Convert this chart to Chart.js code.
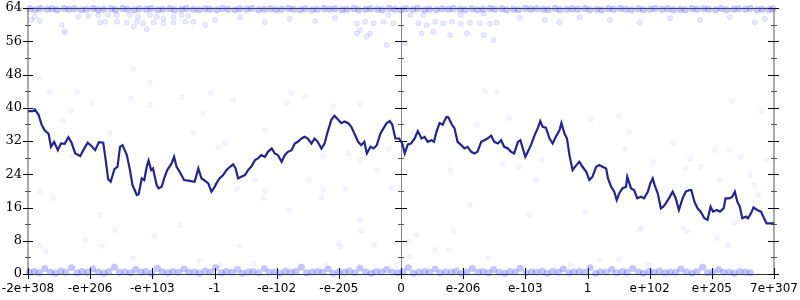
<!DOCTYPE html>
<html><head><meta charset="utf-8">
<script src="https://cdn.jsdelivr.net/npm/chart.js@4/dist/chart.umd.min.js"></script>
<style>html,body{margin:0;padding:0;background:#fff}#wrap{width:800px;height:300px}</style>
</head><body><div id="wrap"><canvas id="c" width="800" height="300"></canvas></div>
<script>
// ---- categories / tick labels ----
const tickLabels = ["-2e+308","-e+206","-e+103","-1","-e-102","-e-205","0","e-206","e-103","1","e+102","e+205","7e+307"];
const yTicks = [0,8,16,24,32,40,48,56,64];

// ---- main line series (x in tick-interval units) ----
const lineX = [0.00,0.08,0.11,0.17,0.22,0.27,0.33,0.37,0.42,0.48,0.53,0.59,0.65,0.70,0.76,0.84,0.89,0.96,1.02,1.08,1.14,1.21,1.25,1.29,1.33,1.39,1.44,1.48,1.52,1.59,1.64,1.68,1.75,1.78,1.83,1.87,1.91,1.94,1.98,2.01,2.07,2.10,2.15,2.19,2.24,2.31,2.35,2.39,2.44,2.51,2.60,2.68,2.74,2.79,2.84,2.90,2.95,3.00,3.03,3.08,3.14,3.19,3.25,3.30,3.34,3.38,3.43,3.49,3.54,3.59,3.65,3.70,3.75,3.81,3.86,3.92,3.97,4.02,4.08,4.13,4.18,4.24,4.29,4.34,4.40,4.45,4.50,4.56,4.61,4.66,4.72,4.77,4.82,4.88,4.93,4.99,5.04,5.09,5.15,5.20,5.25,5.31,5.36,5.41,5.45,5.51,5.56,5.61,5.67,5.72,5.77,5.82,5.86,5.91,5.97,6.02,6.06,6.11,6.16,6.22,6.27,6.33,6.38,6.43,6.49,6.53,6.57,6.62,6.67,6.73,6.76,6.82,6.86,6.91,6.97,7.02,7.07,7.13,7.18,7.23,7.29,7.34,7.39,7.45,7.50,7.56,7.61,7.66,7.72,7.77,7.82,7.88,7.92,7.96,8.00,8.04,8.09,8.15,8.20,8.24,8.28,8.33,8.39,8.44,8.49,8.55,8.58,8.63,8.67,8.71,8.76,8.82,8.87,8.92,8.98,9.03,9.08,9.14,9.19,9.24,9.30,9.33,9.38,9.43,9.47,9.51,9.56,9.62,9.64,9.70,9.75,9.80,9.86,9.91,9.97,10.01,10.05,10.08,10.13,10.18,10.22,10.26,10.31,10.37,10.42,10.47,10.53,10.58,10.64,10.67,10.72,10.77,10.82,10.88,10.93,10.98,11.02,11.08,11.13,11.19,11.22,11.28,11.33,11.37,11.41,11.45,11.49,11.55,11.58,11.63,11.67,11.73,11.79,11.84,11.88,12.00];
const lineY = [39.2,39.2,39.6,38.3,35.9,34.5,33.8,30.6,31.8,29.8,31.4,31.3,32.9,31.6,29.0,28.4,29.8,31.6,30.8,29.8,31.7,31.6,27.4,22.8,22.2,25.2,25.8,30.6,31.0,28.6,25.0,21.4,19.0,19.2,23.0,22.6,25.8,27.3,25.0,25.4,21.4,20.6,21.0,23.0,25.0,26.6,28.2,25.8,24.6,22.6,22.4,22.2,25.4,23.0,22.5,21.8,19.8,20.9,21.8,23.0,23.8,25.0,25.8,26.4,25.4,23.0,23.4,23.8,25.0,25.8,27.4,27.8,28.6,28.2,29.4,30.2,29.0,28.6,27.0,28.6,29.4,29.8,31.4,31.8,32.6,33.0,32.6,31.4,32.6,31.8,30.2,31.4,34.2,37.1,38.1,37.1,36.3,36.7,36.3,35.4,33.8,31.8,31.0,31.8,29.0,30.6,30.2,31.0,33.8,35.1,36.3,36.8,35.9,32.6,32.6,31.4,29.0,31.2,31.4,32.6,34.4,32.6,33.0,31.8,32.2,31.8,34.2,36.3,35.9,37.8,37.7,35.9,35.1,31.8,31.0,30.2,30.6,29.4,29.0,29.4,31.8,32.2,32.6,33.3,31.8,31.4,32.2,30.6,30.2,29.4,29.0,31.8,32.2,30.2,28.2,29.4,31.0,33.4,35.1,36.8,35.4,35.2,32.6,31.4,33.0,34.6,36.3,33.8,32.6,28.6,25.0,26.2,27.0,25.8,24.6,22.6,23.4,25.8,26.2,25.8,25.4,23.0,21.0,19.8,17.8,19.4,20.6,21.0,23.4,20.6,20.2,18.2,18.6,18.2,19.8,21.8,23.0,21.4,19.4,15.8,16.2,17.0,18.2,19.8,18.2,15.4,18.2,19.8,20.2,20.2,17.4,15.8,15.0,13.4,13.0,16.2,15.0,15.4,15.0,15.8,18.2,18.2,18.6,19.8,17.4,16.2,13.4,13.8,13.4,14.6,16.0,15.4,15.0,13.4,12.2,12.2];

// ---- faint sample dots ----
const topEdgeX = [0.03,0.12,0.2,0.31,0.39,0.47,0.58,0.66,0.75,0.86,0.94,1.05,1.13,1.22,1.34,1.41,1.52,1.6,1.71,1.79,1.9,1.98,2.09,2.17,2.28,2.36,2.47,2.55,2.66,2.75,2.85,2.93,3.04,3.13,3.22,3.33,3.41,3.52,3.6,3.71,3.8,3.9,3.99,4.08,4.19,4.27,4.38,4.46,4.57,4.65,4.76,4.85,4.94,5.05,5.13,5.24,5.32,5.43,5.51,5.62,5.7,5.81,5.9,6.0,6.08,6.19,6.27,6.38,6.46,6.57,6.66,6.76,6.84,6.95,7.03,7.14,7.23,7.32,7.43,7.51,7.62,7.7,7.81,7.89,8.0,8.09,8.18,8.29,8.37,8.48,8.56,8.67,8.76,8.85,8.96,9.04,9.15,9.23,9.34,9.42,9.53,9.62,9.71,9.82,9.9,10.01,10.09,10.2,10.29,10.38,10.49,10.57,10.68,10.76,10.87,10.95,11.06,11.15,11.24,11.35,11.43,11.54,11.62,11.73,11.81,11.92,11.98];
const topEdgeY = [63.8,63.6,63.9,63.7,63.8,63.6,63.9,63.7,63.8,63.6,63.7,63.9,63.6,63.7,63.8,63.6,63.9,63.7,63.6,63.8,63.7,63.9,63.6,63.7,63.8,63.6,63.7,63.9,63.7,63.6,63.8,63.7,63.6,63.9,63.7,63.6,63.8,63.7,63.9,63.6,63.7,63.8,63.6,63.7,63.9,63.7,63.6,63.8,63.6,63.7,63.9,63.7,63.8,63.6,63.7,63.9,63.6,63.7,63.8,63.7,63.6,63.9,63.7,63.6,63.8,63.7,63.9,63.6,63.7,63.6,63.8,63.7,63.9,63.7,63.6,63.8,63.6,63.7,63.9,63.7,63.8,63.6,63.7,63.6,63.9,63.7,63.8,63.7,63.6,63.9,63.6,63.7,63.8,63.7,63.9,63.6,63.7,63.6,63.8,63.7,63.9,63.7,63.6,63.8,63.6,63.7,63.9,63.7,63.8,63.6,63.7,63.6,63.9,63.7,63.8,63.7,63.6,63.9,63.6,63.7,63.8,63.7,63.9,63.6,63.7,63.6,63.8];
const highBandX = [0.06,0.19,0.11,0.54,0.59,0.81,0.97,1.13,1.29,1.43,1.64,1.77,1.96,2.07,2.18,2.34,2.47,2.58,1.16,1.24,1.43,1.59,1.75,1.85,2.02,2.18,2.34,2.53,2.66,1.70,1.91,5.29,5.42,5.56,5.72,5.34,5.50,5.88,6.28,6.41,6.55,6.68,6.82,6.96,7.11,7.27,7.43,7.54,6.33,6.52,6.79,7.06,7.33,7.49,6.15,5.80,5.29,5.45,6.07,5.77,6.36,6.96,7.33,7.91,8.31,8.55,8.87,9.36,9.84,10.33,10.81,11.29,11.69,11.85,3.01,3.41,3.81,4.21,4.62,4.94,2.85];
const highBandY = [61.1,60.9,61.9,59.9,58.3,61.9,62.1,62.3,62.3,62.3,62.3,61.9,62.3,61.9,61.5,61.9,62.3,62.1,60.5,60.7,60.7,60.5,60.7,60.3,60.5,60.3,60.5,60.7,60.7,59.5,58.9,60.3,60.7,60.3,60.7,58.7,57.9,60.3,60.3,59.9,60.7,60.3,60.7,60.2,60.5,60.3,60.2,60.5,57.9,58.3,57.5,57.9,57.5,56.3,62.3,62.3,57.9,57.1,55.5,55.1,62.3,62.3,62.7,61.6,61.1,60.6,61.8,61.1,60.6,61.6,61.1,61.8,60.6,61.4,61.1,61.8,60.6,61.4,60.9,61.6,59.9];
const bottomEdgeX = [0.02,0.1,0.18,0.27,0.36,0.44,0.53,0.61,0.7,0.79,0.87,0.96,1.04,1.13,1.22,1.3,1.39,1.47,1.56,1.65,1.73,1.82,1.9,1.99,2.08,2.16,2.25,2.33,2.42,2.51,2.59,2.68,2.76,2.85,2.94,3.02,3.11,3.19,3.28,3.37,3.45,3.54,3.62,3.71,3.8,3.88,3.97,4.05,4.14,4.23,4.31,4.4,4.48,4.57,4.66,4.74,4.83,4.91,5.0,5.09,5.17,5.26,5.34,5.43,5.52,5.6,5.69,5.77,5.86,5.95,6.03,6.12,6.2,6.29,6.38,6.46,6.55,6.63,6.72,6.81,6.89,6.98,7.06,7.15,7.24,7.32,7.41,7.49,7.58,7.67,7.75,7.84,7.92,8.01,8.1,8.18,8.27,8.35,8.44,8.53,8.61,8.7,8.78,8.87,8.96,9.04,9.13,9.21,9.3,9.39,9.47,9.56,9.64,9.73,9.82,9.9,9.99,10.07,10.16,10.25,10.33,10.42,10.5,10.59,10.68,10.76,10.85,10.93,11.02,11.11,11.19,11.28,11.36,11.45,11.54,11.62,11.71,11.79,11.88,11.97];
const bottomEdgeY = [0.4,0.6,0.3,1.3,0.5,0.2,0.7,0.4,1.5,0.3,0.6,0.4,1.2,0.5,0.2,0.6,1.6,0.4,0.5,0.3,1.1,0.4,0.6,0.2,1.4,0.5,0.3,0.6,0.4,1.2,0.4,0.5,0.2,0.7,0.5,1.5,0.3,0.6,0.4,1.1,0.2,0.5,0.6,0.3,1.3,0.4,0.5,0.2,0.7,0.4,0.6,1.6,0.3,0.5,0.6,0.4,1.2,0.2,0.5,0.4,0.7,0.3,1.4,0.5,0.2,0.6,0.4,1.1,0.4,0.3,0.6,1.5,0.2,0.5,0.6,0.4,1.2,0.3,0.5,0.4,0.7,0.2,0.5,1.3,0.4,0.6,0.3,1.1,0.4,0.2,0.6,0.5,1.4,0.3,0.5,0.4,0.7,0.2,0.6,0.4,1.2,0.3,0.5,0.6,0.4,1.5,0.2,0.5,0.4,1.1,0.3,0.6,0.4,1.3,0.5,0.2,0.6,0.4,0.7,0.3,0.5,0.4,1.2,0.5,0.2,0.6,1.6,0.3,0.4,1.1,0.4,0.5,0.2,0.6,0.5,0.3];
const sparseX = [0.19,0.35,0.79,1.69,1.96,0.59,1.02,0.68,0.57,1.32,1.96,2.47,2.93,3.30,2.82,2.66,3.17,3.06,0.70,0.19,0.41,3.36,3.65,3.78,1.65,4.24,4.46,4.16,4.91,5.34,3.81,6.20,5.80,5.15,4.75,3.95,5.34,6.79,5.61,4.51,3.81,4.75,5.10,5.85,4.72,7.22,7.35,7.54,7.74,7.64,7.89,11.32,11.80,9.51,9.05,8.59,9.67,10.38,9.60,11.05,11.29,11.46,11.88,8.27,10.06,10.65,10.82,10.57,8.17,11.13,11.61,11.69,11.75,8.96,9.87,10.54,11.36,0.19,0.29,0.92,1.19,1.40,2.03,1.69,2.75,3.09,3.41,3.63,5.00,5.03,5.36,5.57,6.12,6.24,6.15,6.55,6.78,6.84,7.40,5.93,4.78,10.60,11.08,11.26,9.84,9.19,9.51,8.73,9.98,1.16,4.21,7.11,8.07,2.44,5.34];
const sparseY = [47.2,43.8,43.8,49.3,46.2,58.2,41.2,39.3,36.9,34.0,40.7,42.7,43.6,41.9,38.7,34.0,31.6,30.5,28.4,20.0,18.2,20.6,22.6,18.3,42.3,43.5,42.8,41.1,40.4,40.7,34.6,33.9,30.0,29.0,28.4,27.8,27.4,25.0,24.9,22.6,20.0,20.2,20.5,20.6,18.5,35.9,43.9,43.9,37.5,26.6,25.7,41.7,39.1,38.0,37.3,36.0,34.2,31.4,30.1,29.8,29.8,28.1,27.4,27.4,27.0,27.8,25.8,25.4,22.6,22.6,23.8,21.4,19.0,14.8,11.2,11.2,12.4,6.7,5.4,8.2,6.7,10.6,9.1,3.8,3.2,2.3,6.7,2.6,7.4,6.6,10.3,7.0,7.8,9.4,4.2,5.8,5.8,10.3,3.8,2.2,2.2,10.2,8.6,7.0,10.6,3.5,3.5,2.2,2.2,14.2,15.4,16.6,14.2,11.8,13.0];

const pts = (xs, ys) => xs.map((x, i) => ({x: x, y: ys[i]})).filter(p => p.y !== undefined);

const axesPlugin = {
  id: 'gnuAxes',
  beforeDatasetsDraw(chart) {
    const {ctx, scales: {x, y}} = chart;
    const L = x.getPixelForValue(0), R = x.getPixelForValue(12), C = x.getPixelForValue(6);
    const T = y.getPixelForValue(64), B = y.getPixelForValue(0);
    const seg = (x1, y1, x2, y2) => { ctx.beginPath(); ctx.moveTo(x1, y1); ctx.lineTo(x2, y2); ctx.stroke(); };
    ctx.save();
    ctx.strokeStyle = '#444'; ctx.lineWidth = 1;
    seg(L, Math.round(T) + 0.5, R, Math.round(T) + 0.5);
    ctx.strokeStyle = '#aaa'; ctx.lineWidth = 2;
    seg(L, T, L, B); seg(R, T, R, B);
    ctx.strokeStyle = '#888'; ctx.lineWidth = 1;
    seg(Math.round(C) + 0.5, T, Math.round(C) + 0.5, B);
    ctx.strokeStyle = '#333'; ctx.lineWidth = 1;
    seg(L, Math.round(B) + 0.5, R, Math.round(B) + 0.5);
    ctx.strokeStyle = '#000'; ctx.lineWidth = 1;
    yTicks.forEach((v, i) => {
      const py = Math.round(y.getPixelForValue(v)) + 0.5;
      seg(L - 5, py, L + 5, py);
      seg(C - 6, py, C + 6, py);
      seg(R - 6, py, R + 5, py);
      if (i < yTicks.length - 1) {
        const m = Math.round(y.getPixelForValue((v + yTicks[i + 1]) / 2)) + 0.5;
        ctx.strokeStyle = '#555';
        seg(L - 3, m, L + 3, m);
        seg(C - 3, m, C + 3, m);
        seg(R - 3, m, R + 3, m);
        ctx.strokeStyle = '#000';
      }
    });
    tickLabels.forEach((t, i) => {
      const px = Math.round(x.getPixelForValue(i)) + 0.5;
      seg(px, B - 6, px, B + 5);
    });
    ctx.restore();
  }
};

new Chart(document.getElementById('c'), {
  type: 'scatter',
  data: {
    datasets: [
      {data: pts(lineX, lineY), showLine: true, borderColor: 'rgb(36,36,140)', borderWidth: 2.2, pointRadius: 0, tension: 0, order: 0},
      {data: pts(topEdgeX, topEdgeY), pointRadius: 3.5, backgroundColor: 'rgba(60,60,240,0.3)', borderWidth: 0, order: 1},
      {data: pts(bottomEdgeX, bottomEdgeY), pointRadius: 3.5, backgroundColor: 'rgba(60,60,240,0.3)', borderWidth: 0, order: 1},
      {data: pts(highBandX, highBandY), pointRadius: 2.5, backgroundColor: 'rgba(90,90,255,0.12)', borderColor: 'rgba(90,90,255,0.15)', borderWidth: 1, order: 2},
      {data: pts(sparseX, sparseY), pointRadius: 2.5, backgroundColor: 'rgba(110,110,255,0.07)', borderColor: 'rgba(110,110,255,0.07)', borderWidth: 1, order: 2}
    ]
  },
  options: {
    responsive: false, animation: false, devicePixelRatio: 1,
    clip: false,
    layout: {padding: {top: 8, right: 26, left: 0, bottom: 0}},
    plugins: {legend: {display: false}, tooltip: {enabled: false}},
    scales: {
      x: {
        type: 'linear', min: 0, max: 12,
        afterBuildTicks: s => { s.ticks = tickLabels.map((_, i) => ({value: i})); },
        afterFit: s => { s.height = 26; s.paddingLeft = 0; s.paddingRight = 0; s.paddingTop = 0; s.paddingBottom = 0; },
        grid: {display: false, drawTicks: false}, border: {display: false},
        ticks: {autoSkip: false, maxRotation: 0, padding: 8, color: '#000', font: {family: 'DejaVu Sans', size: 12},
          callback: v => tickLabels[v]}
      },
      y: {
        min: 0, max: 64,
        afterBuildTicks: s => { s.ticks = yTicks.map(v => ({value: v})); },
        afterFit: s => { s.width = 28; s.paddingTop = 0; s.paddingBottom = 0; s.paddingLeft = 0; s.paddingRight = 0; },
        grid: {display: false, drawTicks: false}, border: {display: false},
        ticks: {padding: 6, color: '#000', font: {family: 'DejaVu Serif', size: 13}}
      }
    }
  },
  plugins: [axesPlugin]
});
</script>
</body></html>
